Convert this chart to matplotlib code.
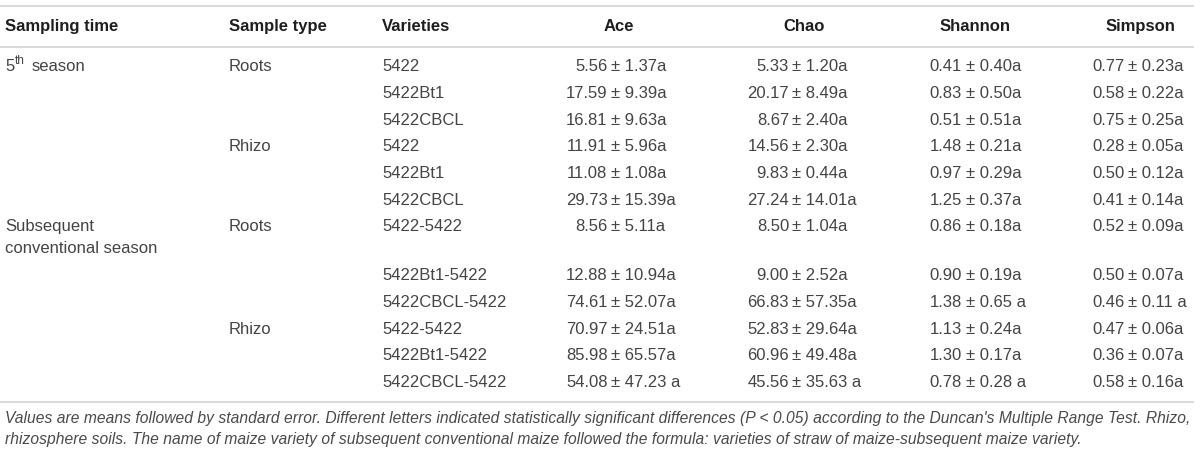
import matplotlib
matplotlib.use("Agg")
import matplotlib.pyplot as plt

# ---------------- data ----------------
headers = ["Sampling time", "Sample type", "Varieties", "Ace", "Chao", "Shannon", "Simpson"]
sampling_times = {0: ["5$^{th}$ season"], 6: ["Subsequent", "conventional season"]}
sample_types = {0: "Roots", 3: "Rhizo", 6: "Roots", 9: "Rhizo"}
varieties = ["5422", "5422Bt1", "5422CBCL", "5422", "5422Bt1", "5422CBCL",
             "5422-5422", "5422Bt1-5422", "5422CBCL-5422",
             "5422-5422", "5422Bt1-5422", "5422CBCL-5422"]

ace_mean = ["5.56", "17.59", "16.81", "11.91", "11.08", "29.73", "8.56", "12.88", "74.61", "70.97", "85.98", "54.08"]
ace_se = ["1.37", "9.39", "9.63", "5.96", "1.08", "15.39", "5.11", "10.94", "52.07", "24.51", "65.57", "47.23"]
ace_letter = ["a", "a", "a", "a", "a", "a", "a", "a", "a", "a", "a", " a"]

chao_mean = ["5.33", "20.17", "8.67", "14.56", "9.83", "27.24", "8.50", "9.00", "66.83", "52.83", "60.96", "45.56"]
chao_se = ["1.20", "8.49", "2.40", "2.30", "0.44", "14.01", "1.04", "2.52", "57.35", "29.64", "49.48", "35.63"]
chao_letter = ["a", "a", "a", "a", "a", "a", "a", "a", "a", "a", "a", " a"]

shannon_mean = ["0.41", "0.83", "0.51", "1.48", "0.97", "1.25", "0.86", "0.90", "1.38", "1.13", "1.30", "0.78"]
shannon_se = ["0.40", "0.50", "0.51", "0.21", "0.29", "0.37", "0.18", "0.19", "0.65", "0.24", "0.17", "0.28"]
shannon_letter = ["a", "a", "a", "a", "a", "a", "a", "a", " a", "a", "a", " a"]

simpson_mean = ["0.77", "0.58", "0.75", "0.28", "0.50", "0.41", "0.52", "0.50", "0.46", "0.47", "0.36", "0.58"]
simpson_se = ["0.23", "0.22", "0.25", "0.05", "0.12", "0.14", "0.09", "0.07", "0.11", "0.06", "0.07", "0.16"]
simpson_letter = ["a", "a", "a", "a", "a", "a", "a", "a", " a", "a", "a", "a"]

footnote = ["Values are means followed by standard error. Different letters indicated statistically significant differences (P < 0.05) according to the Duncan's Multiple Range Test. Rhizo,",
            "rhizosphere soils. The name of maize variety of subsequent conventional maize followed the formula: varieties of straw of maize-subsequent maize variety."]

# ---------------- layout ----------------
W, H = 1200, 454
fig = plt.figure(figsize=(W / 100, H / 100), dpi=100)
ax = fig.add_axes([0, 0, 1, 1])
ax.set_xlim(0, W)
ax.set_ylim(H, 0)
ax.axis("off")

FONT = "Liberation Sans"
body_c = "#444444"
head_c = "#1e1e1e"
line_c = "#d2d2d2"
fs = 12.0

# horizontal rules
for y in (6, 46.5, 401.5):
    ax.plot([0, 1194], [y, y], color=line_c, lw=1.2, solid_capstyle="butt")

# header
head_y = 26.5
ax.text(5, head_y, headers[0], ha="left", va="center", fontsize=fs, fontweight="bold", color=head_c, family=FONT)
ax.text(229, head_y, headers[1], ha="left", va="center", fontsize=fs, fontweight="bold", color=head_c, family=FONT)
ax.text(382, head_y, headers[2], ha="left", va="center", fontsize=fs, fontweight="bold", color=head_c, family=FONT)
for name, cx in zip(headers[3:], (619, 804, 975, 1140)):
    ax.text(cx, head_y, name, ha="center", va="center", fontsize=fs, fontweight="bold", color=head_c, family=FONT)

# row positions
row_y = []
for i in range(len(varieties)):
    y = 66.7 + 26.67 * i
    if i >= 7:
        y += 22.4
    row_y.append(y)

# sampling time
ax.text(5, row_y[0], "5", ha="left", va="center", fontsize=fs, color=body_c, family=FONT)
ax.text(14.5, row_y[0] - 5.5, "th", ha="left", va="center", fontsize=8.5, color=body_c, family=FONT)
ax.text(31.5, row_y[0], "season", ha="left", va="center", fontsize=fs, color=body_c, family=FONT)
ax.text(5, row_y[6], sampling_times[6][0], ha="left", va="center", fontsize=fs, color=body_c, family=FONT)
ax.text(5, row_y[6] + 22, sampling_times[6][1], ha="left", va="center", fontsize=fs, color=body_c, family=FONT)

# sample type
for i, s in sample_types.items():
    ax.text(229, row_y[i], s, ha="left", va="center", fontsize=fs, color=body_c, family=FONT)

# varieties
for i, v in enumerate(varieties):
    ax.text(382, row_y[i], v, ha="left", va="center", fontsize=fs, color=body_c, family=FONT)

# value columns: mean right-aligned before "±", rest left-aligned
cols = [
    (ace_mean, ace_se, ace_letter, 607.5, 611.0),
    (chao_mean, chao_se, chao_letter, 789.0, 792.5),
    (shannon_mean, shannon_se, shannon_letter, 962.0, 965.5),
    (simpson_mean, simpson_se, simpson_letter, 1124.5, 1128.0),
]
for means, ses, lets, xr, xl in cols:
    for i in range(len(means)):
        ax.text(xr, row_y[i], means[i], ha="right", va="center", fontsize=fs, color=body_c, family=FONT)
        ax.text(xl, row_y[i], "\u00b1 " + ses[i] + lets[i], ha="left", va="center", fontsize=fs, color=body_c, family=FONT)

# footnote
ax.text(5, 418, footnote[0], ha="left", va="center", fontsize=11.25, style="italic", color="#4a4a4a", family=FONT)
ax.text(5, 439.5, footnote[1], ha="left", va="center", fontsize=11.25, style="italic", color="#4a4a4a", family=FONT)

fig.savefig("out.png", dpi=100, facecolor="white")
